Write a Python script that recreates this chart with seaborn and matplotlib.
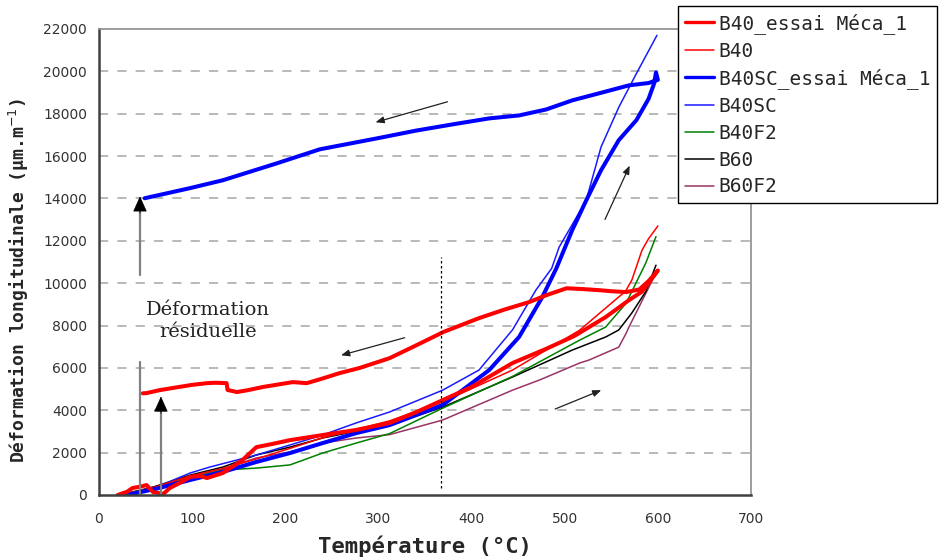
import matplotlib
matplotlib.use("Agg")
import matplotlib.pyplot as plt
import pandas as pd
import numpy as np
import seaborn as sns

# ---- data (temperature in °C, deformation in µm/m)
b40_meca_t = [20, 30, 36, 45, 51, 58, 69, 76, 88, 98, 108, 116, 133, 154, 169, 185, 205, 240, 276, 312,
              340, 369, 400, 444, 480, 510, 544, 569, 583, 598,
              600, 590, 580, 566, 550, 537, 520, 502, 480, 462, 435, 408, 370, 337, 312, 280, 258,
              240, 223, 208, 190, 176, 160, 148, 138, 137, 125, 116, 100, 79, 65, 51, 47]
b40_meca_d = [0, 150, 330, 400, 470, 140, 50, 330, 600, 850, 900, 800, 1040, 1650, 2260, 2400, 2590, 2830, 3070, 3400,
              3900, 4480, 5100, 6230, 6900, 7500, 8400, 9200, 9600, 10480,
              10600, 10100, 9700, 9580, 9620, 9670, 9720, 9760, 9430, 9110, 8750, 8350, 7700, 6990, 6460, 6000, 5750,
              5500, 5280, 5330, 5200, 5100, 4950, 4860, 4960, 5280, 5300, 5280, 5200, 5050, 4950, 4810, 4800]

b40_t = [20, 40, 62, 98, 133, 169, 205, 240, 276, 312, 369, 444, 516, 558, 565, 572, 583, 590, 600]
b40_d = [0, 150, 400, 900, 1250, 1700, 2200, 2700, 3100, 3500, 4400, 5900, 7780, 9350, 9600, 10140, 11560, 12100, 12700]

b40sc_meca_t = [30, 62, 98, 133, 169, 205, 240, 276, 312, 369, 419, 451, 476, 491, 508, 523, 539, 558, 577, 590, 596, 598,
                600, 590, 569, 540, 508, 480, 451, 419, 380, 340, 300, 237, 191, 133, 97, 49]
b40sc_meca_d = [0, 300, 710, 1090, 1560, 1980, 2450, 2920, 3300, 4250, 5900, 7460, 9350, 10700, 12500, 13900, 15330, 16750,
                17700, 18700, 19430, 19950,
                19600, 19450, 19340, 19000, 18630, 18200, 17920, 17780, 17500, 17200, 16850, 16320, 15660, 14860, 14480, 14010]

b40sc_t = [25, 62, 98, 119, 169, 205, 240, 276, 312, 369, 408, 444, 469, 486, 494, 523, 539, 558, 577, 599]
b40sc_d = [0, 380, 1040, 1320, 1890, 2360, 2830, 3400, 3920, 4950, 5900, 7800, 9670, 10700, 11700, 13900, 16430, 18300, 19900, 21700]

b40f2_t = [20, 60, 98, 133, 169, 205, 240, 276, 312, 369, 444, 516, 544, 566, 587, 598]
b40f2_d = [0, 350, 800, 1180, 1270, 1420, 1980, 2450, 2900, 4100, 5600, 7310, 7930, 9060, 10950, 12200]

b60_t = [25, 60, 98, 133, 169, 205, 240, 283, 312, 369, 444, 508, 544, 558, 572, 587, 598]
b60_d = [0, 400, 940, 1320, 1890, 2260, 2690, 3070, 3300, 4150, 5570, 6840, 7460, 7790, 8590, 9600, 10850]

b60f2_t = [20, 60, 98, 133, 169, 205, 240, 276, 312, 369, 444, 473, 516, 526, 558, 566, 569, 598]
b60f2_d = [0, 380, 850, 1230, 1750, 2030, 2450, 2690, 2850, 3540, 4950, 5430, 6230, 6370, 6980, 7640, 7930, 10480]

# annotation arrows (tail -> head), data coords
arrows = [((377, 18600), (294, 17560)),
          ((542, 12890), (571, 15670)),
          ((331, 7460), (257, 6560)),
          ((487, 4010), (542, 5000))]

sns.set_style("white")
plt.rcParams['font.family'] = ['DejaVu Sans']

fig = plt.figure(figsize=(9.45, 5.6), dpi=100)
ax = fig.add_axes([99 / 945, 1 - 495 / 560, (751 - 99) / 945, (495 - 29) / 560])

series = [
    ("B60F2", b60f2_t, b60f2_d, "#993366", 1.1),
    ("B60", b60_t, b60_d, "#000000", 1.1),
    ("B40F2", b40f2_t, b40f2_d, "#008000", 1.1),
    ("B40SC", b40sc_t, b40sc_d, "#1a1aff", 1.1),
    ("B40", b40_t, b40_d, "#ff0000", 1.1),
    ("B40SC_essai Méca_1", b40sc_meca_t, b40sc_meca_d, "#0000ff", 2.9),
    ("B40_essai Méca_1", b40_meca_t, b40_meca_d, "#ff0000", 2.9),
]
handles = {}
for name, t, d, col, lw in series:
    df = pd.DataFrame({"T": t, "D": d})
    sns.lineplot(data=df, x="T", y="D", sort=False, estimator=None, color=col, linewidth=lw, ax=ax)
    handles[name] = ax.lines[-1]

ax.set_xlim(0, 700)
ax.set_ylim(0, 22000)
ax.set_xticks(np.arange(0, 701, 100))
ax.set_yticks(np.arange(0, 22001, 2000))
for yv in np.arange(2000, 20001, 2000):
    ax.axhline(yv, color="#a6a6a6", lw=1.1, ls=(0, (6, 6)), zorder=0)

for s in ["left", "bottom"]:
    ax.spines[s].set_color("#404040")
    ax.spines[s].set_linewidth(1.8)
for s in ["top", "right"]:
    ax.spines[s].set_color("#8c8c8c")
    ax.spines[s].set_linewidth(1.2)
ax.tick_params(direction="out", length=5, width=1, colors="#404040", labelsize=10, labelcolor="#333333")
ax.tick_params(axis="x", pad=7)

ax.set_xlabel("Température (°C)", fontsize=16, fontweight="bold", family="DejaVu Sans Mono", labelpad=7)
ax.set_ylabel("Déformation longitudinale (µm.m$^{-1}$)", fontsize=13, fontweight="bold",
              family="DejaVu Sans Mono")
ax.yaxis.set_label_coords(-0.105, 0.46)

# dotted vertical line
ax.plot([367.7, 367.7], [330, 11240], color="black", lw=0.9, ls=(0, (2, 2)))

for (x0, y0), (x1, y1) in arrows:
    ax.annotate("", xy=(x1, y1), xytext=(x0, y0),
                arrowprops=dict(arrowstyle="-|>,head_length=0.5,head_width=0.2", color="#202020", lw=0.9))

# residual deformation arrows: gray shaft, black head
head = dict(arrowstyle="-|>,head_length=1.0,head_width=0.45", color="black", lw=0.5, shrinkA=0, shrinkB=0)
ax.plot([44, 44], [10390, 13500], color="#808080", lw=1.6)
ax.annotate("", xy=(44, 14100), xytext=(44, 13300), arrowprops=head)
ax.plot([44, 44], [0, 6300], color="#808080", lw=1.6)
ax.plot([66.5, 66.5], [0, 4000], color="#808080", lw=1.6)
ax.annotate("", xy=(66.5, 4650), xytext=(66.5, 3850), arrowprops=head)
ax.text(117, 8220, "Déformation\nrésiduelle", family="DejaVu Serif", fontsize=14, ha="center", va="center",
        linespacing=1.3, color="#222222")

order = ["B40_essai Méca_1", "B40", "B40SC_essai Méca_1", "B40SC", "B40F2", "B60", "B60F2"]
leg = fig.legend([handles[n] for n in order], order, loc="upper left",
                 bbox_to_anchor=(678 / 945, 1 - 6 / 560), prop={"family": "DejaVu Sans Mono", "size": 14},
                 frameon=True, fancybox=False, framealpha=1, edgecolor="black", handlelength=1.5,
                 handletextpad=0.25, labelspacing=0.4, borderpad=0.35, borderaxespad=0)
leg.get_frame().set_linewidth(1.0)
for h in leg.legend_handles:
    h.set_linewidth(min(h.get_linewidth(), 2.4))

fig.savefig("out.png", dpi=100)
